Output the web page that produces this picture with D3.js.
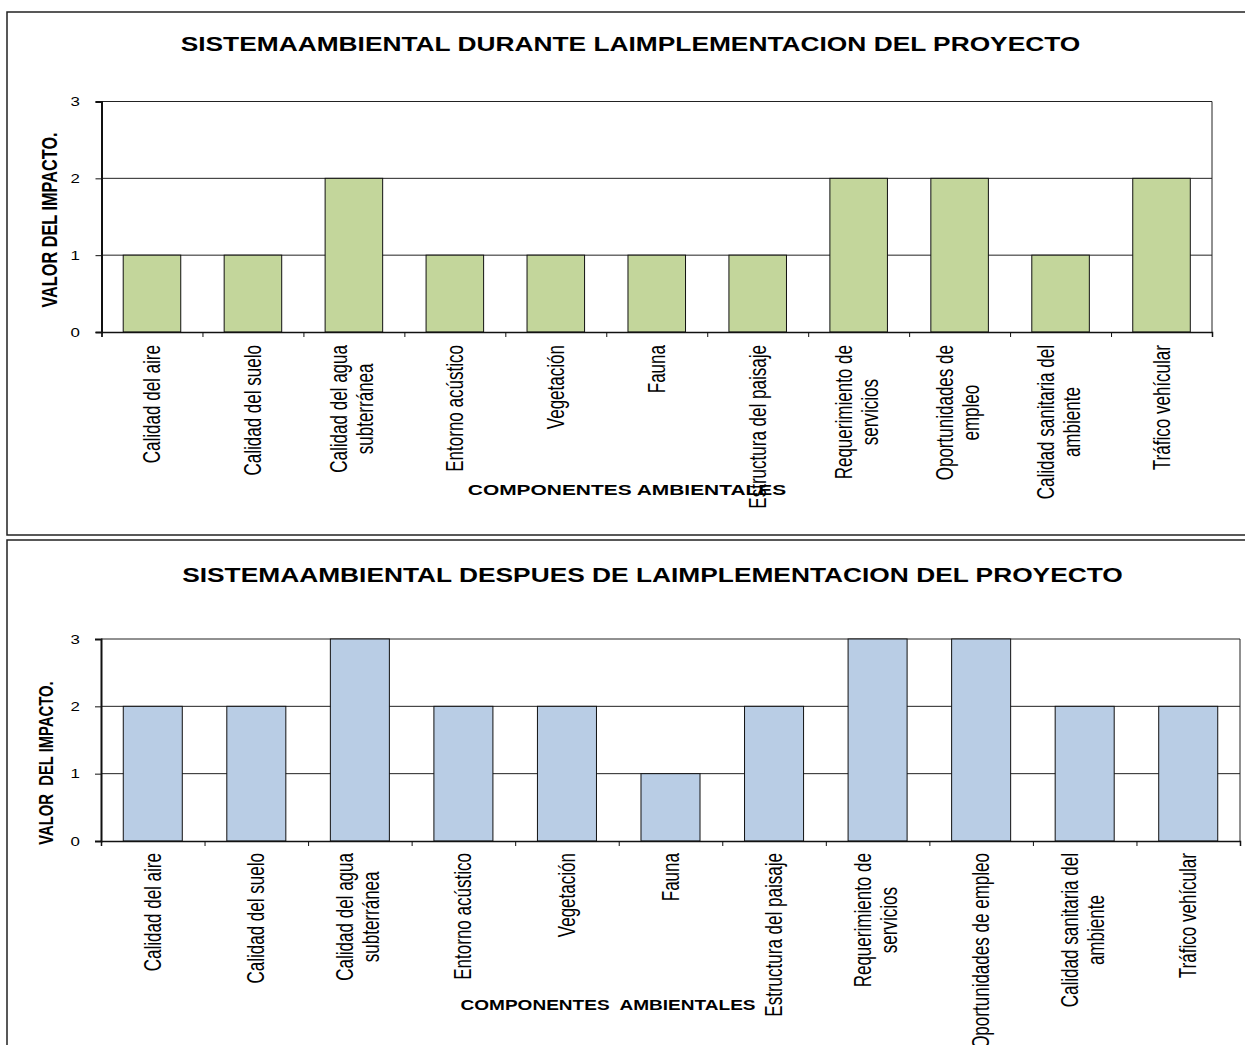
<!DOCTYPE html>
<html><head><meta charset="utf-8">
<script src="https://cdn.jsdelivr.net/npm/d3@7"></script>
<style>
body{margin:0;background:#fff}
svg{display:block}
text{font-family:"Liberation Sans",Arial,sans-serif;fill:#000;white-space:pre}
</style>
</head><body>
<svg id="c" width="1245" height="1045"></svg>
<script>
// ---------- data ----------
const categoriesDuring = ["Calidad del aire","Calidad del suelo","Calidad del agua\nsubterránea","Entorno acústico","Vegetación","Fauna","Estructura del paisaje","Requerimiento de\nservicios","Oportunidades de\nempleo","Calidad sanitaria del\nambiente","Tráfico vehícular"];
const valuesDuring = [1,1,2,1,1,1,1,2,2,1,2];
const categoriesAfter = ["Calidad del aire","Calidad del suelo","Calidad del agua\nsubterránea","Entorno acústico","Vegetación","Fauna","Estructura del paisaje","Requerimiento de\nservicios","Oportunidades de empleo","Calidad sanitaria del\nambiente","Tráfico vehícular"];
const valuesAfter = [2,2,3,2,2,1,2,3,3,2,2];
const yTickValues = [0,1,2,3];
const titleDuring = "SISTEMAAMBIENTAL DURANTE LAIMPLEMENTACION DEL PROYECTO";
const titleAfter = "SISTEMAAMBIENTAL DESPUES DE LAIMPLEMENTACION DEL PROYECTO";
const yTitleDuring = "VALOR DEL IMPACTO.";
const yTitleAfter = "VALOR  DEL IMPACTO.";
const xTitleDuring = "COMPONENTES AMBIENTALES";
const xTitleAfter = "COMPONENTES  AMBIENTALES";

// ---------- layout ----------
const S = 1.35; // horizontal stretch of the original picture
const svg = d3.select("#c");

const charts = [
  {cats:categoriesDuring, vals:valuesDuring, title:titleDuring, yTitle:yTitleDuring, xTitle:xTitleDuring,
   fill:"#c3d69b",
   box:{x:7,y:12,w:1300,h:523},
   plot:{x0:101.5,x1:1212,yBottom:332,yTop:101.5},
   titlePos:{cx:630.5,by:51,size:19.5},
   yTitlePos:{bx:57,cy:220,size:22},
   xTitlePos:{cx:627,by:495,size:15.5},
   labelOffset:13},
  {cats:categoriesAfter, vals:valuesAfter, title:titleAfter, yTitle:yTitleAfter, xTitle:xTitleAfter,
   fill:"#b9cde5",
   box:{x:7,y:540,w:1300,h:600},
   plot:{x0:101,x1:1240,yBottom:841,yTop:639},
   titlePos:{cx:652.5,by:582,size:19.5},
   yTitlePos:{bx:53,cy:763,size:20},
   xTitlePos:{cx:608,by:1010,size:14.1},
   labelOffset:12}
];

charts.forEach(ch => {
  const g = svg.append("g");
  // chart area box
  g.append("rect").attr("x",ch.box.x).attr("y",ch.box.y).attr("width",ch.box.w).attr("height",ch.box.h)
    .attr("fill","#fff").attr("stroke","#222").attr("stroke-width",1.5);

  const p = ch.plot;
  const x = d3.scaleBand().domain(d3.range(ch.cats.length)).range([p.x0,p.x1]).paddingInner(0.43).paddingOuter(0.215);
  const y = d3.scaleLinear().domain([0,3]).range([p.yBottom,p.yTop]);
  const xb = d3.scaleLinear().domain([0,ch.cats.length]).range([p.x0,p.x1]);

  // gridlines
  g.append("g").selectAll("line").data(yTickValues.filter(v=>v>0)).join("line")
    .attr("x1",p.x0).attr("x2",p.x1).attr("y1",d=>y(d)).attr("y2",d=>y(d))
    .attr("stroke","#222").attr("stroke-width",1);
  // right border of plot
  g.append("line").attr("x1",p.x1).attr("x2",p.x1).attr("y1",y(3)).attr("y2",y(0))
    .attr("stroke","#222").attr("stroke-width",1);

  // bars
  g.append("g").selectAll("rect").data(ch.vals).join("rect")
    .attr("x",(d,i)=>x(i)).attr("width",x.bandwidth())
    .attr("y",d=>y(d)).attr("height",d=>y(0)-y(d))
    .attr("fill",ch.fill).attr("stroke","#111").attr("stroke-width",1);

  // y axis
  const ya = g.append("g").attr("transform",`translate(${p.x0},0)`)
    .call(d3.axisLeft(y).tickValues(yTickValues).tickSize(6).tickFormat(""));
  ya.select(".domain").attr("stroke","#111").attr("stroke-width",2);
  ya.selectAll(".tick line").attr("stroke","#111");
  g.append("g").selectAll("text").data(yTickValues).join("text")
    .attr("transform",d=>`translate(80,${y(d)+4.7}) scale(1.3,1)`)
    .attr("text-anchor","end").attr("font-size",13).text(d=>d);

  // x axis
  const xa = g.append("g").attr("transform",`translate(0,${p.yBottom})`)
    .call(d3.axisBottom(xb).tickValues(d3.range(ch.cats.length+1)).tickSize(5).tickFormat(""));
  xa.select(".domain").attr("stroke","#111").attr("stroke-width",1.5);
  xa.selectAll(".tick line").attr("stroke","#111");

  // title
  g.append("text").attr("transform",`translate(${ch.titlePos.cx},${ch.titlePos.by}) scale(${S},1)`)
    .attr("text-anchor","middle").attr("font-weight","bold").attr("font-size",ch.titlePos.size).text(ch.title);

  // x axis title
  g.append("text").attr("transform",`translate(${ch.xTitlePos.cx},${ch.xTitlePos.by}) scale(${S},1)`)
    .attr("text-anchor","middle").attr("font-weight","bold").attr("font-size",ch.xTitlePos.size).text(ch.xTitle);

  // y axis title
  g.append("text").attr("transform",`translate(${ch.yTitlePos.bx},${ch.yTitlePos.cy}) rotate(-90) scale(${1/S},1)`)
    .attr("text-anchor","middle").attr("font-weight","bold").attr("font-size",ch.yTitlePos.size).text(ch.yTitle);

  // category labels
  const fs = 23, lh = 26;
  ch.cats.forEach((c,i) => {
    const lines = c.split("\n");
    const cx = x(i) + x.bandwidth()/2;
    const lg = g.append("g").attr("transform",`translate(${cx},${p.yBottom+ch.labelOffset}) rotate(-90) scale(${1/S},1)`);
    const ts = lines.map((l,j) => lg.append("text").attr("font-size",fs)
      .attr("y", 8 + (j-(lines.length-1)/2)*lh - (lines.length>1?2:0)).text(l));
    const maxLen = d3.max(ts, t => t.node().getComputedTextLength());
    ts.forEach(t => t.attr("x",-maxLen/2).attr("text-anchor","middle"));
  });
});
</script>
</body></html>
